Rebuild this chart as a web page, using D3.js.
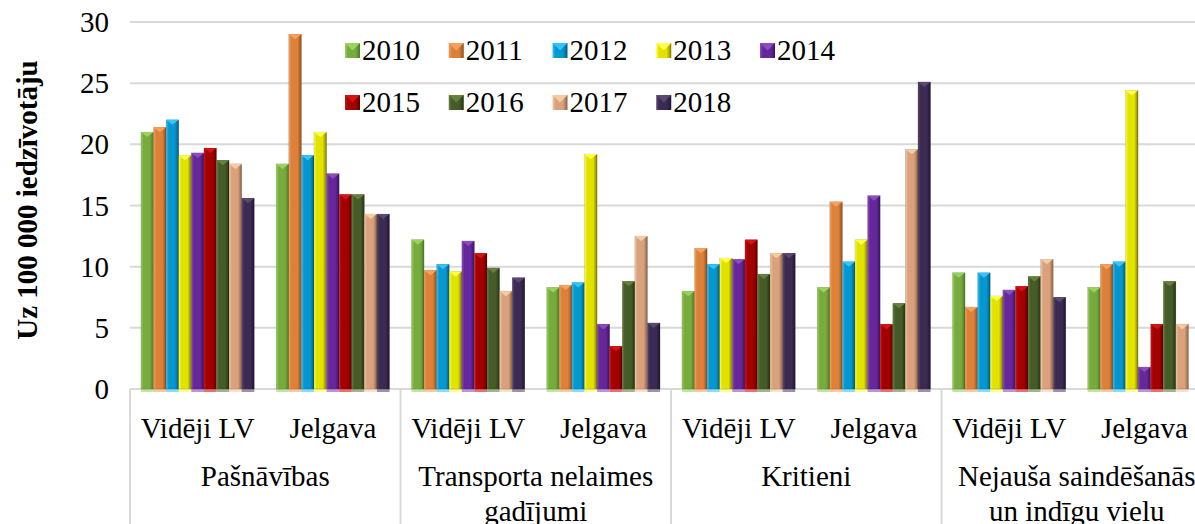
<!DOCTYPE html>
<html>
<head>
<meta charset="utf-8">
<script src="https://cdn.jsdelivr.net/npm/d3@7"></script>
<style>
  body { margin: 0; background: #fff; }
</style>
</head>
<body>
<div class="viz"></div>
<script>
const w = 1195;
const h = 524;

// data
const causes = [["Pašnāvības"], ["Transporta nelaimes", "gadījumi"], ["Kritieni"], ["Nejauša saindēšanās", "un indīgu vielu"]];
const places = ["Vidēji LV", "Jelgava"];
const years = ["2010", "2011", "2012", "2013", "2014", "2015", "2016", "2017", "2018"];
const yTicks = [0, 5, 10, 15, 20, 25, 30];

// values per year: [Pašn. LV, Pašn. Jelg, Transp. LV, Transp. Jelg, Krit. LV, Krit. Jelg, Saind. LV, Saind. Jelg]
const v2010 = [21.0, 18.4, 12.2, 8.3, 8.0, 8.3, 9.5, 8.3];
const v2011 = [21.4, 29.0, 9.7, 8.5, 11.5, 15.3, 6.7, 10.2];
const v2012 = [22.0, 19.1, 10.2, 8.7, 10.2, 10.4, 9.5, 10.4];
const v2013 = [19.1, 21.0, 9.6, 19.2, 10.7, 12.2, 7.6, 24.4];
const v2014 = [19.3, 17.6, 12.1, 5.3, 10.6, 15.8, 8.1, 1.8];
const v2015 = [19.7, 15.9, 11.1, 3.5, 12.2, 5.3, 8.4, 5.3];
const v2016 = [18.7, 15.9, 9.9, 8.8, 9.4, 7.0, 9.2, 8.8];
const v2017 = [18.4, 14.3, 8.0, 12.5, 11.1, 19.6, 10.6, 5.3];
const v2018 = [15.6, 14.3, 9.1, 5.4, 11.1, 25.1, 7.5, null];
const values = [v2010, v2011, v2012, v2013, v2014, v2015, v2016, v2017, v2018];

// [light, base, dark]
const colors = [
  ["#9ad25e", "#77ab3e", "#4f7a25"],
  ["#f6a25e", "#dc803a", "#8e4d1c"],
  ["#35c4f5", "#0697cf", "#005c82"],
  ["#ffff4d", "#e2e200", "#7c7c00"],
  ["#8a4dbb", "#65279a", "#3b1260"],
  ["#d41414", "#a30000", "#5c0000"],
  ["#65813d", "#455b28", "#253314"],
  ["#f6caa6", "#d9a27c", "#8c6243"],
  ["#5a4772", "#3b2b52", "#1f1530"]
];

const font = "Liberation Serif";
const fs = 29;

const svg = d3.select(".viz")
    .append("svg")
    .attr("width", w)
    .attr("height", h)
    .attr("font-family", font);

const left = 130;
const catW = 270.5;
const x0 = d3.scaleBand()
    .domain(d3.range(causes.length))
    .range([left, left + catW * causes.length]);
const x1 = d3.scaleBand()
    .domain(places)
    .range([0, x0.bandwidth()]);
const x2 = d3.scaleBand()
    .domain(years)
    .range([0, x1.bandwidth()])
    .paddingOuter(0.87);
const y = d3.scaleLinear()
    .domain([0, 30])
    .range([389, 22]);

// gradients
const defs = svg.append("defs");
colors.forEach(function (c, i) {
    const g = defs.append("linearGradient")
        .attr("id", "g" + i)
        .attr("x1", "0").attr("x2", "1").attr("y1", "0").attr("y2", "0");
    g.append("stop").attr("offset", "0").attr("stop-color", c[0]);
    g.append("stop").attr("offset", "0.2").attr("stop-color", c[1]);
    g.append("stop").attr("offset", "0.7").attr("stop-color", c[1]);
    g.append("stop").attr("offset", "1").attr("stop-color", c[2]);
});

// gridlines
svg.append("g")
    .selectAll("line")
    .data(yTicks)
    .enter()
    .append("line")
    .attr("x1", left)
    .attr("x2", w)
    .attr("y1", d => y(d))
    .attr("y2", d => y(d))
    .style("stroke", "#d9d9d9")
    .style("stroke-width", 2);

// y tick labels
svg.append("g")
    .selectAll("text")
    .data(yTicks)
    .enter()
    .append("text")
    .attr("x", left - 21)
    .attr("y", d => y(d))
    .attr("dy", "0.35em")
    .attr("text-anchor", "end")
    .attr("font-family", font)
    .attr("font-size", fs)
    .text(d => d);

// y axis title
svg.append("text")
    .attr("transform", "translate(37,200) rotate(-90)")
    .attr("text-anchor", "middle")
    .attr("font-family", font)
    .attr("font-size", fs)
    .attr("font-weight", "bold")
    .text("Uz 100 000 iedzīvotāju");

// bars
const bars = [];
values.forEach(function (series, si) {
    series.forEach(function (v, k) {
        if (v == null) return;
        const ci = Math.floor(k / 2);
        const pl = places[k % 2];
        bars.push({ s: si, v: v, x: x0(ci) + x1(pl) + x2(years[si]) });
    });
});

const bw = x2.bandwidth();
const barG = svg.append("g");
barG.selectAll("rect.base")
    .data(bars)
    .enter()
    .append("rect")
    .attr("x", d => d.x)
    .attr("y", y(0))
    .attr("width", bw)
    .attr("height", 3)
    .style("fill", d => colors[d.s][0])
    .style("opacity", 0.6);
barG.selectAll("rect.bar")
    .data(bars)
    .enter()
    .append("rect")
    .attr("x", d => d.x)
    .attr("y", d => y(d.v))
    .attr("width", bw)
    .attr("height", d => y(0) - y(d.v))
    .style("fill", (d) => "url(#g" + d.s + ")")
    .style("stroke", "rgba(0,0,0,0.25)")
    .style("stroke-width", 0.5);
barG.selectAll("path.top")
    .data(bars)
    .enter()
    .append("path")
    .attr("d", d => {
        const t = y(d.v);
        return "M" + d.x + "," + t + "L" + (d.x + bw) + "," + t + "L" + (d.x + bw / 2) + "," + (t + 5) + "Z";
    })
    .style("fill", d => colors[d.s][0]);

// category axis box
const lineC = "#d9d9d9";
svg.append("g")
    .selectAll("line")
    .data(d3.range(causes.length + 1))
    .enter()
    .append("line")
    .attr("x1", d => left + d * catW)
    .attr("x2", d => left + d * catW)
    .attr("y1", y(0))
    .attr("y2", h)
    .style("stroke", lineC)
    .style("stroke-width", 2);

const catG = svg.append("g");
causes.forEach(function (c, ci) {
    places.forEach(function (p) {
        catG.append("text")
            .attr("x", x0(ci) + x1(p) + x1.bandwidth() / 2)
            .attr("y", 438)
            .attr("text-anchor", "middle")
            .attr("font-family", font)
            .attr("font-size", fs)
            .text(p);
    });
    c.forEach(function (line, li) {
        catG.append("text")
            .attr("x", x0(ci) + x0.bandwidth() / 2)
            .attr("y", 486 + li * 35)
            .attr("text-anchor", "middle")
            .attr("font-family", font)
            .attr("font-size", fs)
            .text(line);
    });
});

// legend
const legX = d3.scaleLinear().domain([0, 4]).range([345, 760]);
const legend = svg.append("g")
    .selectAll("g")
    .data(years)
    .enter()
    .append("g")
    .attr("transform", (d, i) => "translate(" + legX(i % 5) + "," + (i < 5 ? 50 : 102) + ")");
legend.append("rect")
    .attr("x", 0)
    .attr("y", -7)
    .attr("width", 15)
    .attr("height", 15)
    .style("fill", (d, i) => "url(#g" + i + ")");
legend.append("path")
    .attr("d", "M0,-7L15,-7L7.5,0.5Z")
    .style("fill", (d, i) => colors[i][0]);
legend.append("text")
    .attr("x", 17)
    .attr("dy", "0.35em")
    .attr("font-family", font)
    .attr("font-size", fs)
    .text(d => d);
</script>
</body>
</html>
